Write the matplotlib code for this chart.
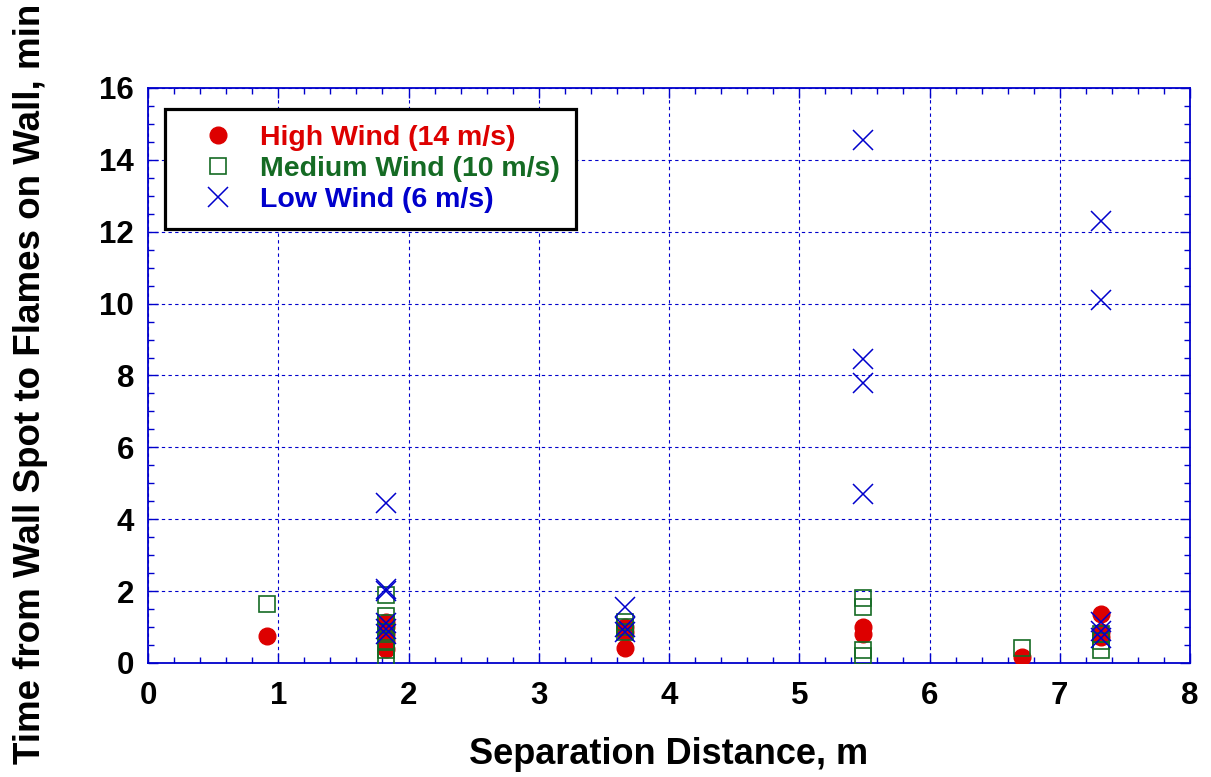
import matplotlib
matplotlib.use("Agg")
import matplotlib.pyplot as plt
from matplotlib.ticker import MultipleLocator

plt.rcParams['font.family'] = ['Liberation Sans', 'DejaVu Sans']
plt.rcParams['font.weight'] = 'bold'

# High wind (14 m/s)
high_x = [0.91, 1.83, 1.83, 1.83, 1.83, 1.83, 3.66, 3.66, 3.66, 5.49, 5.49, 6.71, 7.32, 7.32, 7.32]
high_y = [0.75, 1.15, 1.0, 0.8, 0.6, 0.4, 1.0, 0.85, 0.42, 1.0, 0.8, 0.17, 1.35, 0.85, 0.72]

# Medium wind (10 m/s)
med_x = [0.91, 1.83, 1.83, 1.83, 1.83, 1.83, 1.83, 1.83, 3.66, 3.66, 3.66, 5.49, 5.49, 5.49, 5.49, 6.71, 7.32, 7.32, 7.32]
med_y = [1.65, 1.9, 1.3, 1.1, 0.85, 0.6, 0.35, 0.15, 1.15, 1.0, 0.85, 1.8, 1.55, 0.35, 0.2, 0.42, 0.8, 0.6, 0.35]

# Low wind (6 m/s)
low_x = [1.83, 1.83, 1.83, 1.83, 1.83, 1.83, 3.66, 3.66, 3.66, 5.49, 5.49, 5.49, 5.49, 7.32, 7.32, 7.32, 7.32, 7.32]
low_y = [4.45, 2.05, 2.0, 1.1, 0.95, 0.8, 1.55, 1.0, 0.85, 14.55, 8.45, 7.8, 4.7, 12.3, 10.1, 1.15, 0.9, 0.7]

labels = ['High Wind (14 m/s)', 'Medium Wind (10 m/s)', 'Low Wind (6 m/s)']
red = '#dd0000'
green = '#156b24'
blue = '#0000cc'

fig = plt.figure(figsize=(12.11, 7.77), dpi=100)
ax = fig.add_axes([148/1211, 1 - 663/777, (1190-148)/1211, (663-88)/777])

ax.plot(high_x, high_y, 'o', color=red, markersize=12, linestyle='none', label=labels[0], zorder=3)
ax.plot(med_x, med_y, 's', markerfacecolor='none', markeredgecolor=green, markeredgewidth=1.2,
        markersize=12, linestyle='none', label=labels[1], zorder=4)
ax.plot(low_x, low_y, 'x', color=blue, markersize=14.5, markeredgewidth=1.1, linestyle='none',
        label=labels[2], zorder=5)

ax.set_xlim(0, 8)
ax.set_ylim(0, 16)
ax.xaxis.set_major_locator(MultipleLocator(1))
ax.xaxis.set_minor_locator(MultipleLocator(0.2))
ax.yaxis.set_major_locator(MultipleLocator(2))
ax.yaxis.set_minor_locator(MultipleLocator(0.5))
ax.grid(True, which='major', color=blue, linestyle=(0, (3, 3)), linewidth=0.8)
for s in ax.spines.values():
    s.set_color(blue)
    s.set_linewidth(1.3)
ax.tick_params(which='both', direction='in', top=True, right=True, color=blue)
ax.tick_params(which='major', length=7, width=1, labelsize=22.5)
ax.tick_params(axis='y', which='major', pad=10)
ax.tick_params(axis='x', which='major', pad=13)
ax.tick_params(which='minor', length=4, width=1)
for t in ax.get_xticklabels() + ax.get_yticklabels():
    t.set_fontweight('bold')

ax.set_xlabel('Separation Distance, m', fontsize=26, fontweight='bold', va='center')
ax.xaxis.set_label_coords(0.5, -0.16)
ax.set_ylabel('Time from Wall Spot to Flames on Wall, min', fontsize=26.5, fontweight='bold',
              va='center', ha='center')
ax.yaxis.set_label_coords(-0.113, 0.486)

leg = ax.legend(loc='upper left', bbox_to_anchor=(17/1042, 1 - 21/575), fontsize=20.5, frameon=True,
                fancybox=False, edgecolor='black', framealpha=1, handletextpad=0.17, borderpad=0.57,
                labelspacing=0.17, handlelength=2.6, borderaxespad=0)
leg.get_frame().set_linewidth(2.3)
for txt, c in zip(leg.get_texts(), [red, green, blue]):
    txt.set_color(c)
    txt.set_fontweight('bold')

fig.savefig('out.png', dpi=100)
